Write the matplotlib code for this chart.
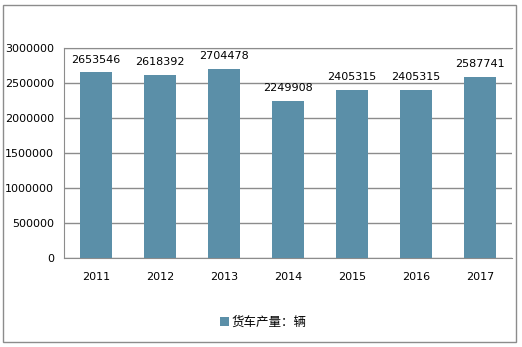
import matplotlib
matplotlib.use("Agg")
import matplotlib.pyplot as plt
from matplotlib.patches import Rectangle

years = ["2011", "2012", "2013", "2014", "2015", "2016", "2017"]
output = [2653546, 2618392, 2704478, 2249908, 2405315, 2405315, 2587741]
yticks = [0, 500000, 1000000, 1500000, 2000000, 2500000, 3000000]

plt.rcParams['font.family'] = ['DejaVu Sans', 'Noto Sans CJK SC']

fig = plt.figure(figsize=(5.22, 3.47), dpi=100)
ax = fig.add_axes([64/522, 1-258/347, 448/522, 210/347])

# bars + value labels
bars = ax.bar(years, output, width=0.5, color="#5B8FA8", label="货车产量：辆", zorder=3)
for b, v in zip(bars, output):
    ax.text(b.get_x() + b.get_width()/2, v + 110000, str(v), ha="center", va="bottom", fontsize=8)

ax.set_ylim(0, 3000000)
ax.set_xlim(-0.5, 6.5)
ax.set_yticks(yticks)
ax.set_yticklabels([str(t) for t in yticks], fontsize=8)
ax.tick_params(axis="x", labelsize=8, length=0, pad=10)
ax.tick_params(axis="y", length=0, pad=7)
ax.grid(axis="y", color="#8c8c8c", linewidth=1, zorder=0)
ax.spines["right"].set_visible(False)
for s in ["top", "left", "bottom"]:
    ax.spines[s].set_color("#8c8c8c")

fig.legend(handles=[bars], labels=["货车产量：辆"], loc="center", bbox_to_anchor=(263/522, 1-322/347),
           frameon=False, prop={"family": ["Noto Sans CJK SC"], "size": 9},
           handlelength=0.7, handleheight=0.7, handletextpad=0.2)

# outer chart border
fig.patches.append(Rectangle((3/522, 5/347), 513/522, 337/347, transform=fig.transFigure,
                             fill=False, edgecolor="#8c8c8c", linewidth=1))

fig.savefig("out.png", dpi=100)
